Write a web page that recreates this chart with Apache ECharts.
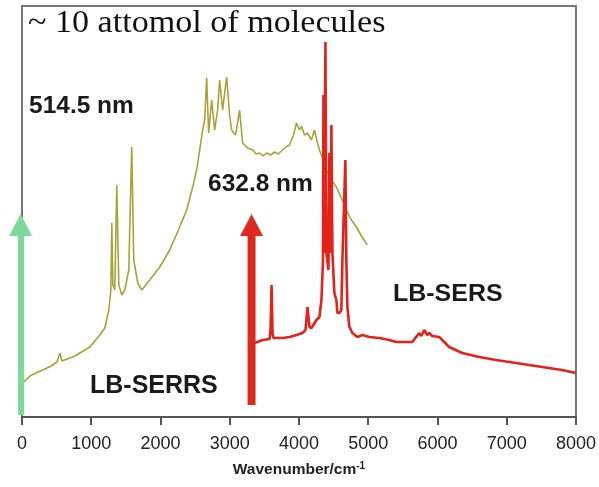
<!DOCTYPE html>
<html><head><meta charset="utf-8">
<script src="https://cdn.jsdelivr.net/npm/echarts@6/dist/echarts.min.js"></script>
<style>html,body{margin:0;padding:0;background:#fff}#c{width:599px;height:487px}</style>
</head><body><div id="c"></div>
<script>
// LB-SERRS spectrum (514.5 nm excitation): wavenumber (cm-1) and relative intensity (a.u.)
const serrsX = [14,115,200,332,420,504,548,577,764,980,1124,1196,1254,1283,1297,1312,1340,1369,1398,1441,1485,1542,1585,1614,1672,1730,1845,1989,2133,2277,2378,2465,2522,2566,2609,2638,2667,2695,2739,2782,2825,2854,2897,2955,2998,3027,3085,3142,3186,3258,3330,3380,3431,3480,3531,3590,3647,3700,3762,3810,3863,3921,3964,4007,4036,4079,4122,4180,4223,4267,4295,4350,4396,4468,4540,4612,4684,4757,4829,4901,4987];
const serrsY = [34,41,44,48,51,55,64,56,61,70,82,89,107,127,194,132,127,232,132,122,127,147,270,157,134,127,137,150,167,190,207,230,247,267,287,297,339,284,317,287,307,337,307,340,302,287,282,307,274,269,267,263,264,261,264,262,265,263,267,270,272,282,294,287,291,282,284,277,287,274,267,257,247,237,230,219,207,197,190,181,172];
// LB-SERS spectrum (632.8 nm excitation)
const sersX = [3358,3474,3575,3589,3604,3618,3632,3762,3863,3964,4050,4094,4122,4151,4180,4252,4295,4324,4346,4353,4360,4382,4396,4411,4425,4439,4454,4468,4483,4511,4540,4555,4584,4612,4627,4670,4684,4699,4728,4771,4843,4915,5016,5160,5304,5405,5521,5636,5737,5766,5809,5852,5881,5924,6025,6169,6357,6602,6847,7322,7798,8000];
const sersY = [74,77,78,87,132,84,79,79,80,82,84,87,110,90,89,97,100,117,155,322,164,375,164,164,147,264,164,292,164,124,117,104,104,107,157,257,157,110,90,84,80,82,80,79,77,75,75,75,84,81,87,82,84,81,80,70,64,60,57,52,47,44];
// excitation lines (position in cm-1, arrow bottom, arrow top)
const greenArrow = [-20, 2, 192];
const redArrow = [3315, 12, 192];
const xTicks = [0,1000,2000,3000,4000,5000,6000,7000,8000];

const zip = (xs, ys) => xs.map((x, i) => [x, ys[i]]);
const arrowData = a => [{value:[a[0], a[1]], symbol:'none'}, {value:[a[0], a[2]], symbol:'triangle', symbolSize:[23,22]}];

const chart = echarts.init(document.getElementById('c'), null, {renderer:'canvas'});
chart.setOption({
  animation:false,
  backgroundColor:'#fff',
  grid:{left:22, right:22, top:6, bottom:70, show:true, borderColor:'#777', borderWidth:2},
  xAxis:{type:'value', min:xTicks[0], max:xTicks[xTicks.length-1], interval:1000,
    axisLine:{show:true, lineStyle:{color:'#555', width:2}},
    axisTick:{show:true, length:8, lineStyle:{color:'#555', width:2}},
    axisLabel:{color:'#222', fontSize:18, fontFamily:'Liberation Sans, Arial', margin:18, formatter: v => String(v)},
    splitLine:{show:false},
    name:'Wavenumber/cm{s|-1}', nameLocation:'middle', nameGap:44,
    nameTextStyle:{color:'#222', fontSize:15.5, fontWeight:'bold', fontFamily:'Liberation Sans, Arial',
      rich:{s:{fontSize:10, fontWeight:'bold', verticalAlign:'top', color:'#222', padding:[0,0,7,0]}}}
  },
  yAxis:{type:'value', min:0, max:411, show:true, axisLine:{show:false}, axisTick:{show:false}, axisLabel:{show:false}, splitLine:{show:false}},
  series:[
    {type:'line', data:zip(serrsX, serrsY), symbol:'none', lineStyle:{color:'#a5a43a', width:1.6}, z:2},
    {type:'line', data:zip(sersX, sersY), symbol:'none', lineStyle:{color:'#e2231a', width:2.6}, z:3},
    {type:'line', data:arrowData(greenArrow), clip:false, lineStyle:{color:'#7dd99b', width:7}, itemStyle:{color:'#7dd99b'}, z:4},
    {type:'line', data:arrowData(redArrow), clip:false, lineStyle:{color:'#dd2a1e', width:8}, itemStyle:{color:'#dd2a1e'}, z:4}
  ],
  graphic:[
    {type:'text', x:28, y:24, scaleX:1.1, style:{text:'~ 10 attomol of molecules', font:'31px "Liberation Serif", "Times New Roman", serif', fill:'#111', verticalAlign:'middle'}},
    {type:'text', x:29, y:106, style:{text:'514.5 nm', font:'bold 24.5px "Liberation Sans", Arial', fill:'#1a1a1a', verticalAlign:'middle'}},
    {type:'text', x:208, y:184, style:{text:'632.8 nm', font:'bold 24.5px "Liberation Sans", Arial', fill:'#1a1a1a', verticalAlign:'middle'}},
    {type:'text', x:90, y:386, style:{text:'LB-SERRS', font:'bold 25px "Liberation Sans", Arial', fill:'#1a1a1a', verticalAlign:'middle'}},
    {type:'text', x:393, y:294, scaleX:1.04, style:{text:'LB-SERS', font:'bold 24px "Liberation Sans", Arial', fill:'#1a1a1a', verticalAlign:'middle'}}
  ]
});
</script>
</body></html>
